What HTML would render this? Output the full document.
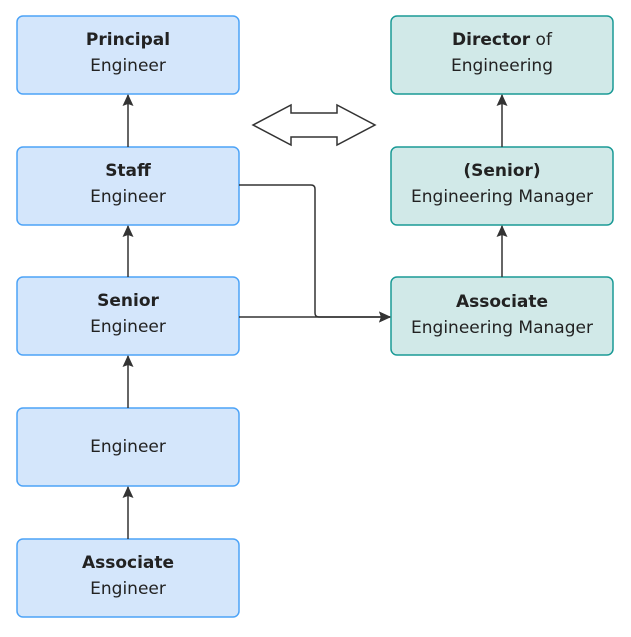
<!DOCTYPE html>
<html><head><style>body{margin:0;background:#fff}</style></head><body>
<svg width="631" height="632" xmlns="http://www.w3.org/2000/svg" font-family="'DejaVu Sans', sans-serif" font-size="17" text-anchor="middle">
<defs><marker id="a" markerWidth="12" markerHeight="12" refX="11" refY="6" orient="auto" markerUnits="userSpaceOnUse"><path d="M0,0.5 L12,6 L0,11.5 L2,6 z" fill="#333"/></marker></defs>
<rect width="631" height="632" fill="#fff"/>
<g fill="#d4e6fb" stroke="#4da3f7" stroke-width="1.5">
<rect x="17" y="16" width="222" height="78" rx="6"/>
<rect x="17" y="147" width="222" height="78" rx="6"/>
<rect x="17" y="277" width="222" height="78" rx="6"/>
<rect x="17" y="408" width="222" height="78" rx="6"/>
<rect x="17" y="539" width="222" height="78" rx="6"/>
</g>
<g fill="#d1e9e8" stroke="#1a9a96" stroke-width="1.5">
<rect x="391" y="16" width="222" height="78" rx="6"/>
<rect x="391" y="147" width="222" height="78" rx="6"/>
<rect x="391" y="277" width="222" height="78" rx="6"/>
</g>
<g stroke="#333" stroke-width="1.5" fill="none" marker-end="url(#a)">
<line x1="128" y1="147" x2="128" y2="95"/>
<line x1="128" y1="277" x2="128" y2="226"/>
<line x1="128" y1="408" x2="128" y2="356"/>
<line x1="128" y1="539" x2="128" y2="487"/>
<line x1="502" y1="147" x2="502" y2="95"/>
<line x1="502" y1="277" x2="502" y2="226"/>
<line x1="239" y1="317" x2="390" y2="317"/>
<path d="M239,185 H311 Q315,185 315,189 V313 Q315,317 319,317 H390"/>
</g>
<path d="M253,125 L291,105 L291,113 L337,113 L337,105 L375,125 L337,145 L337,137 L291,137 L291,145 Z" fill="#fff" stroke="#333" stroke-width="1.5"/>
<g fill="#222">
<text x="128" y="45" font-weight="bold">Principal</text><text x="128" y="71">Engineer</text>
<text x="128" y="176" font-weight="bold">Staff</text><text x="128" y="202">Engineer</text>
<text x="128" y="306" font-weight="bold">Senior</text><text x="128" y="332">Engineer</text>
<text x="128" y="452">Engineer</text>
<text x="128" y="568" font-weight="bold">Associate</text><text x="128" y="594">Engineer</text>
<text x="502" y="45"><tspan font-weight="bold">Director</tspan> of</text><text x="502" y="71">Engineering</text>
<text x="502" y="176" font-weight="bold">(Senior)</text><text x="502" y="202">Engineering Manager</text>
<text x="502" y="307" font-weight="bold">Associate</text><text x="502" y="333">Engineering Manager</text>
</g>
</svg>
</body></html>
